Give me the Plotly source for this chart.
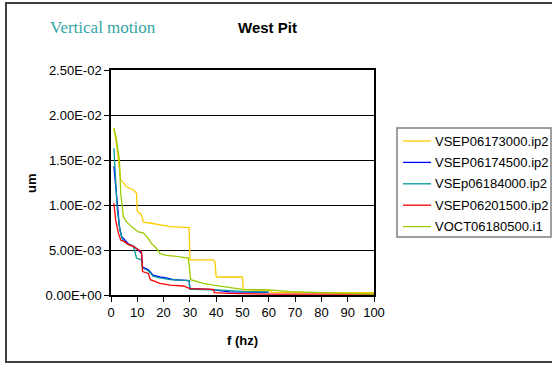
import plotly.graph_objects as go

# ---- data ----
names = ["VSEP06173000.ip2", "VSEP06174500.ip2", "VSEp06184000.ip2", "VSEP06201500.ip2", "VOCT06180500.i1"]
colors = ["#FFCC00", "#0000FF", "#009999", "#FF0000", "#99CC00"]

f_yellow = [1.1, 2.0, 3.0, 3.7, 6.0, 8.5, 9.7, 10.0, 11.6, 12.3, 14.8, 18.6, 22.4, 29.7, 30.0, 38.9, 39.5, 40.0, 50.0, 50.3, 60.5, 61.0, 100.0]
v_yellow = [0.0185, 0.0170, 0.0145, 0.0128, 0.0120, 0.0117, 0.0113, 0.0093, 0.0089, 0.0081, 0.0080, 0.0078, 0.0076, 0.0075, 0.0039, 0.0039, 0.0037, 0.0020, 0.0020, 0.00056, 0.00050, 0.00030, 0.00025]

f_blue = [1.1, 1.8, 2.4, 3.2, 4.0, 5.3, 6.6, 8.5, 10.4, 11.6, 12.0, 14.2, 16.0, 18.6, 21.0, 23.7, 29.7, 30.0, 37.6, 45.0, 60.0]
v_blue = [0.0143, 0.0120, 0.0094, 0.0076, 0.0065, 0.0061, 0.0057, 0.0054, 0.0050, 0.0046, 0.0031, 0.0028, 0.0022, 0.0020, 0.0019, 0.0017, 0.0016, 0.0007, 0.00063, 0.00035, 0.00030]

f_teal = [1.1, 1.8, 2.4, 3.4, 4.4, 6.0, 8.5, 9.1, 9.7, 11.6, 12.0, 14.2, 16.0, 18.6, 22.4, 29.7, 30.0, 40.0, 50.0, 60.0]
v_teal = [0.0163, 0.0131, 0.0094, 0.0072, 0.0061, 0.0057, 0.0054, 0.0048, 0.0041, 0.0039, 0.0030, 0.0027, 0.0021, 0.0019, 0.0017, 0.0016, 0.00063, 0.00056, 0.00040, 0.00033]

f_red = [1.1, 1.8, 2.8, 3.7, 5.3, 6.6, 8.5, 10.4, 11.6, 12.0, 14.2, 15.0, 16.0, 18.6, 22.4, 27.5, 30.0, 39.0, 39.3, 45.0, 60.0, 100.0]
v_red = [0.0102, 0.0083, 0.0069, 0.0061, 0.0059, 0.0056, 0.0054, 0.0050, 0.0048, 0.0026, 0.0024, 0.0017, 0.0016, 0.0013, 0.0011, 0.0010, 0.0007, 0.00063, 0.00026, 0.00019, 0.00010, 0.00010]

f_green = [1.1, 1.9, 3.2, 3.7, 4.7, 6.0, 7.8, 10.4, 12.3, 14.2, 15.4, 17.3, 18.6, 21.1, 24.9, 29.4, 30.3, 32.5, 35.0, 38.9, 43.9, 46.5, 50.0, 60.0, 68.0, 80.0, 100.0]
v_green = [0.0185, 0.0176, 0.0150, 0.0113, 0.0087, 0.0081, 0.0076, 0.0070, 0.0069, 0.0063, 0.0057, 0.0052, 0.0046, 0.0044, 0.0043, 0.0041, 0.0017, 0.0015, 0.0013, 0.0011, 0.0009, 0.00074, 0.00063, 0.00056, 0.00037, 0.00026, 0.00011]

series_f = [f_yellow, f_blue, f_teal, f_red, f_green]
series_v = [v_yellow, v_blue, v_teal, v_red, v_green]

x_ticks = [0, 10, 20, 30, 40, 50, 60, 70, 80, 90, 100]
y_ticks = [0.0, 0.005, 0.01, 0.015, 0.02, 0.025]
y_ticktext = ["0.00E+00", "5.00E-03", "1.00E-02", "1.50E-02", "2.00E-02", "2.50E-02"]

FONT = "Liberation Sans, Arial, sans-serif"

fig = go.Figure()
for name, col, fx, vy in zip(names, colors, series_f, series_v):
    fig.add_trace(go.Scatter(x=fx, y=vy, mode="lines", name=name, showlegend=False,
                             line=dict(color=col, width=1.3)))

# plot area: x 111..374, y 70..295
L, R, T, B = 111, 374, 70, 295
W, H = 552, 366
pw, ph = R - L, B - T

def px2paper(px):
    return (px - L) / pw

def py2paper(py):
    return (B - py) / ph

fig.update_layout(
    width=W, height=H,
    margin=dict(l=L, r=W - R, t=T, b=H - B, pad=0, autoexpand=False),
    paper_bgcolor="white", plot_bgcolor="white",
    font=dict(family=FONT, size=13, color="black"),
    showlegend=False,
    xaxis=dict(range=[0, 100], tickvals=x_ticks, ticks="outside", ticklen=5,
               tickcolor="black", showline=True, linecolor="black", linewidth=1.5,
               mirror=True, showgrid=False, zeroline=False,
               tickfont=dict(family=FONT, size=13)),
    yaxis=dict(range=[0, 0.025], tickvals=y_ticks, ticktext=y_ticktext,
               ticks="outside", ticklen=5, tickcolor="black",
               showline=True, linecolor="black", linewidth=1.5, mirror=True,
               showgrid=True, gridcolor="black", gridwidth=1, zeroline=False,
               tickfont=dict(family=FONT, size=13)),
)

def note(text, px, py, size, family=FONT, color="black", angle=0, xanchor="center"):
    fig.add_annotation(text=text, xref="paper", yref="paper",
                       x=px2paper(px), y=py2paper(py), xanchor=xanchor, yanchor="middle",
                       showarrow=False, textangle=angle,
                       font=dict(family=family, size=size, color=color))

note("<b>West Pit</b>", 267, 27, 15)
note("Vertical motion", 103, 27, 17, family="Liberation Serif, Times New Roman, serif", color="#33A6A6")
note("<b>um</b>", 31, 183, 13, angle=-90)
note("<b>f (hz)</b>", 242, 340, 13)

# legend (drawn as box + line samples + text)
LEG_L, LEG_R, LEG_T, LEG_B = 397, 551, 128, 237
fig.add_shape(type="rect", xref="paper", yref="paper",
              x0=px2paper(LEG_L), x1=px2paper(LEG_R), y0=py2paper(LEG_B), y1=py2paper(LEG_T),
              line=dict(color="#808080", width=1.5), fillcolor="white")
for i, (name, col) in enumerate(zip(names, colors)):
    yc = 141 + i * 21.4
    fig.add_shape(type="line", xref="paper", yref="paper",
                  x0=px2paper(403), x1=px2paper(431), y0=py2paper(yc), y1=py2paper(yc),
                  line=dict(color=col, width=1.3))
    note(name, 433, yc, 13, xanchor="left")

# outer chart border
fig.add_shape(type="rect", xref="paper", yref="paper",
              x0=px2paper(6), x1=px2paper(560), y0=py2paper(362), y1=py2paper(3),
              line=dict(color="#404040", width=2), fillcolor="rgba(0,0,0,0)", layer="below")

fig.write_html("out.html")
